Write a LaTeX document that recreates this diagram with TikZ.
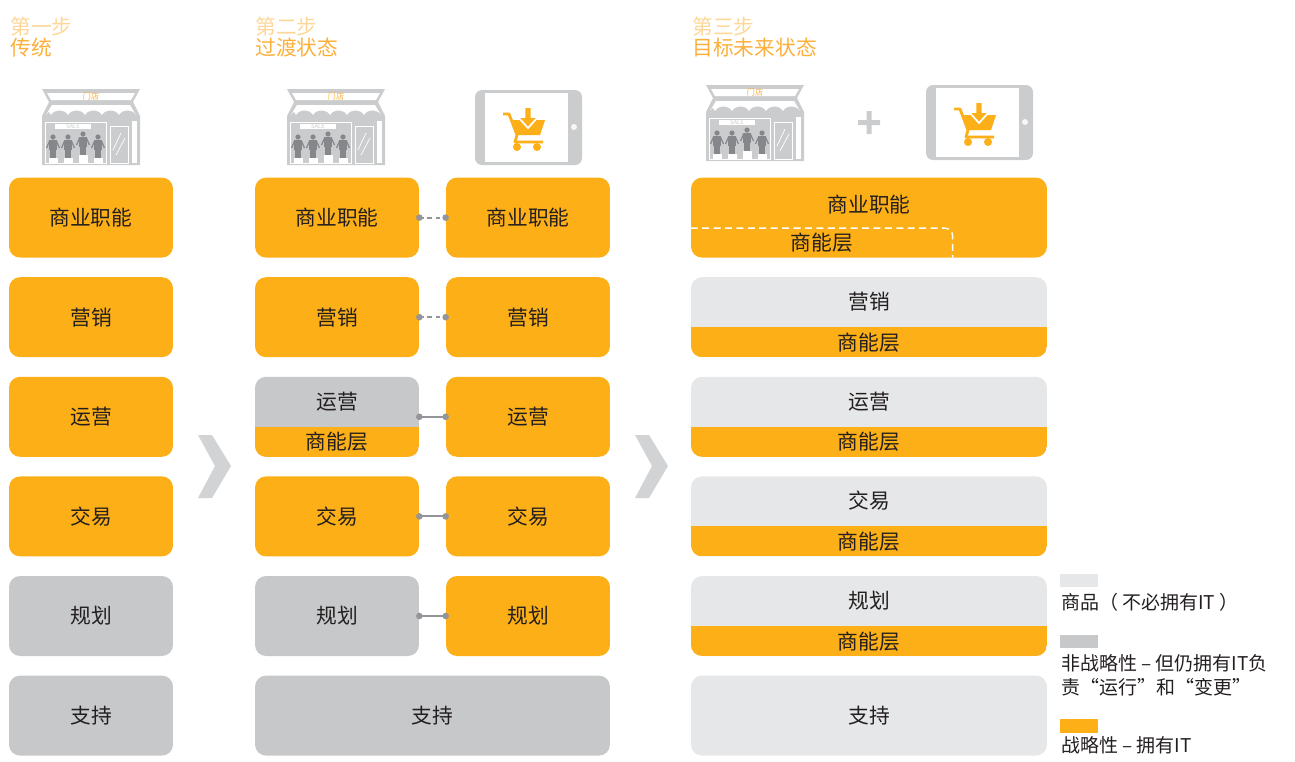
\documentclass[tikz,border=0pt]{standalone}
\usepackage{fontspec}
\setmainfont{Noto Sans CJK SC}
\usetikzlibrary{positioning}

\definecolor{strat}{HTML}{FCAF17}
\definecolor{nonstrat}{HTML}{C7C8CA}
\definecolor{commod}{HTML}{E6E7E8}
\definecolor{linkgray}{HTML}{939598}
\definecolor{chevgray}{HTML}{D1D3D4}
\definecolor{iconfill}{HTML}{CBCCCE}
\definecolor{figgray}{HTML}{85878A}
\definecolor{stepfaint}{HTML}{FDD797}
\definecolor{steptitle}{HTML}{FBB03B}
\definecolor{inktext}{HTML}{231F20}

\newcommand{\tilefont}{\fontsize{11.8}{14}\selectfont}
\newcommand{\keyfont}{\fontsize{10.8}{13.6}\selectfont}

\tikzset{
    store/.pic={
        % frame, sign and awning
        \fill[iconfill] (0,0) -- (98,0) -- (91,13) -- (98,27) -- (98,76) -- (0,76) -- (0,27) -- (7,13) -- cycle;
        \fill[white] (5,4) -- (93,4) -- (89,11) -- (9,11) -- cycle;
        \node[text=steptitle, font=\fontsize{4.6}{5}\selectfont, inner sep=0pt] at (49,7.5) {门店};
        \fill[white] (10,16) -- (88,16) -- (94,26)
            .. controls (91,20) and (80,20) .. (77,26)
            .. controls (74,20) and (63,20) .. (60,26)
            .. controls (57,20) and (46,20) .. (43,26)
            .. controls (40,20) and (29,20) .. (26,26)
            .. controls (23,20) and (12,20) .. (9,26)
            .. controls (7,22) .. (4,26) -- cycle;
        % window with figures
        \draw[white, line width=0.5pt] (3,33) rectangle (64,74);
        \fill[white] (13,35) rectangle (49,40);
        \node[text=iconfill, font=\fontsize{3.4}{4}\selectfont, inner sep=0pt] at (31,37.5) {SALE};
        \foreach \px/\hy in {11/48, 26/48, 41/45, 56/48} {
            \fill[figgray] (\px,\hy) circle (2.6);
            \fill[figgray] (\px-3.6,\hy+3) rectangle (\px+3.6,\hy+13);
            \fill[figgray] (\px-2.6,\hy+13) rectangle (\px+2.6,\hy+21);
            \draw[figgray, line width=0.7pt] (\px-3.4,\hy+4) -- (\px-6.5,\hy+11);
            \draw[figgray, line width=0.7pt] (\px+3.4,\hy+4) -- (\px+6.5,\hy+11);
            \fill[white] (\px-4.5,\hy+21) rectangle (\px+4.5,74);
        }
        % door and side strip
        \draw[white, line width=0.5pt] (68,37) rectangle (86,74);
        \draw[white, line width=0.4pt] (71,61) -- (79,44) (74,66) -- (83,49);
        \fill[white] (90,32) rectangle (95,74);
    },
    tablet/.pic={
        \fill[iconfill, rounded corners=0.14cm] (0,0) rectangle (107,75);
        \fill[white] (10,3) rectangle (93,72);
        \fill[white!85!iconfill] (99,37) circle (3);
        % cart with arrow
        \draw[strat, line width=1.6pt, line join=round] (28,24) -- (34,24) -- (42,45) -- (40,52) -- (68,52);
        \fill[strat] (38,30) -- (70,30) -- (65,45) -- (42,45) -- cycle;
        \fill[strat] (42,57) circle (4) (62,57) circle (4);
        \fill[strat, draw=white, line width=1pt] (49.5,17) -- (56.5,17) -- (56.5,27) -- (63,27) -- (53,38) -- (43,27) -- (49.5,27) -- cycle;
    },
    tile/.style={rounded corners=0.22cm, minimum height=1.6cm, inner sep=0pt,
        font=\tilefont, text=inktext},
    narrow/.style={tile, minimum width=3.28cm},
    wide/.style={tile, minimum width=7.12cm},
    split/.style={path picture={
        \fill[strat, sharp corners] (path picture bounding box.south west)
            rectangle ([yshift=0.6cm]path picture bounding box.south east);}},
    tiletext/.style={font=\tilefont, text=inktext, inner sep=0pt},
    link/.style={linkgray, line width=1.15pt},
    linkdash/.style={dash pattern=on 2.8pt off 1.8pt},
    dot/.style={linkgray},
    stepnum/.style={anchor=west, inner sep=0pt, font=\tilefont, text=stepfaint},
    stepname/.style={anchor=west, inner sep=0pt, font=\tilefont, text=steptitle},
    keytext/.style={anchor=west, inner sep=0pt, font=\keyfont, text=inktext}
}

\begin{document}
\begin{tikzpicture}[x=0.02cm, y=-0.02cm]
    \useasboundingbox (0,0) rectangle (1295,761);

    % step headings
    \node[stepnum] (n1) at (10,27) {第一步};
    \node[stepname] (h1) at (10,48) {传统};
    \node[stepnum] (n2) at (255,27) {第二步};
    \node[stepname] (h2) at (255,48) {过渡状态};
    \node[stepnum] (n3) at (692,27) {第三步};
    \node[stepname] (h3) at (692,48) {目标未来状态};

    % icons
    \pic at (42,89) {store};
    \pic at (287,89) {store};
    \pic at (475,90) {tablet};
    \pic at (706,85) {store};
    \pic at (926,85) {tablet};
    \fill[iconfill] (858,120) rectangle (880,125) (866.5,111) rectangle (871.5,134);

    % step 1
    \foreach \lbl/\clr [count=\i] in {商业职能/strat, 营销/strat, 运营/strat, 交易/strat, 规划/nonstrat, 支持/nonstrat}
        \node[narrow, fill=\clr] (a\i) at (91,{118+99.6*\i}) {\lbl};

    % step 2
    \foreach \i/\lbl/\clr in {1/商业职能/strat, 2/营销/strat, 4/交易/strat, 5/规划/nonstrat}
        \node[narrow, fill=\clr] (b\i) at (337,{118+99.6*\i}) {\lbl};
    \node[narrow, fill=nonstrat, split] (b3) at (337,{118+99.6*3}) {};
    \node[tiletext] at ([yshift=-0.5cm]b3.north) {运营};
    \node[tiletext] at ([yshift=0.3cm]b3.south) {商能层};
    \foreach \lbl [count=\i] in {商业职能, 营销, 运营, 交易, 规划}
        \node[narrow, fill=strat] (c\i) at (528,{118+99.6*\i}) {\lbl};
    \node[tile, minimum width=7.1cm, fill=nonstrat] (b6) at (432.5,{118+99.6*6}) {支持};

    \foreach \i/\pat in {1/linkdash, 2/linkdash, 3/solid, 4/solid, 5/solid} {
        \draw[link, \pat] (b\i.east) -- (c\i.west);
        \fill[dot] (b\i.east) circle (3.3) (c\i.west) circle (3.3);
    }

    % step 3
    \node[wide, fill=strat] (d1) at (869,{118+99.6}) {};
    \node[tiletext] at ([yshift=-0.54cm]d1.north) {商业职能};
    \node[tiletext] at ([shift={(2.62cm,0.3cm)}]d1.south west) {商能层};
    \draw[white, line width=0.8pt, dash pattern=on 4pt off 2.5pt, rounded corners=0.16cm]
        ([yshift=-0.21cm]d1.west) -| ([xshift=5.24cm]d1.south west);
    \foreach \i/\lbl in {2/营销, 3/运营, 4/交易, 5/规划} {
        \node[wide, fill=commod, split] (d\i) at (869,{118+99.6*\i}) {};
        \node[tiletext] at ([yshift=-0.5cm]d\i.north) {\lbl};
        \node[tiletext] at ([yshift=0.3cm]d\i.south) {商能层};
    }
    \node[wide, fill=commod] (d6) at (869,{118+99.6*6}) {支持};

    % arrows between steps
    \foreach \dx in {0,437}
        \fill[chevgray] (198+\dx,435) -- (212+\dx,435) -- (231+\dx,466) -- (212+\dx,498)
            -- (198+\dx,498) -- (215+\dx,466) -- cycle;

    % key
    \fill[commod] (1060,574) rectangle (1098,587);
    \node[keytext] (k1) at (1061,602) {商品（ 不必拥有IT ）};
    \fill[nonstrat] (1060,635) rectangle (1098,648);
    \node[keytext] (k2) at (1061,663) {非战略性 – 但仍拥有IT负};
    \node[keytext] (k2b) at (1061,687) {责“运行”和“变更”};
    \fill[strat] (1060,719) rectangle (1098,733);
    \node[keytext] (k3) at (1061,745) {战略性 – 拥有IT};
\end{tikzpicture}
\end{document}
